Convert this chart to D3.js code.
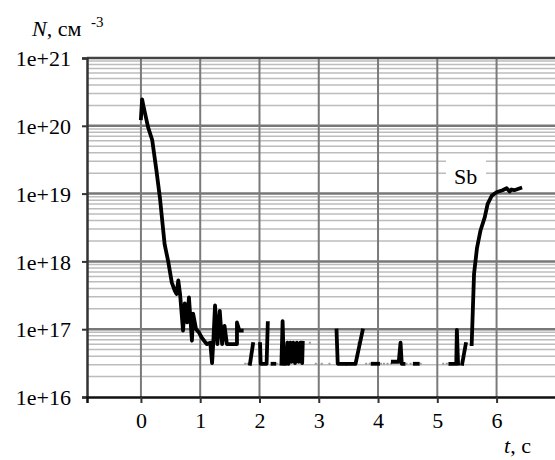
<!DOCTYPE html>
<html>
<head>
<meta charset="utf-8">
<script src="https://cdn.jsdelivr.net/npm/d3@7"></script>
</head>
<body style="margin:0; background:#fff">
<svg id="chart" width="555" height="460"></svg>
<script>
// data: time t (s) and exponent of N (cm^-3)
// each sub-array is one drawn piece of the curve; gaps between them
const segments = [
  [[0.00,20.11],[0.02,20.39],[0.04,20.30],[0.12,19.98],[0.19,19.79],[0.26,19.35],
   [0.32,18.94],[0.40,18.25],[0.46,18.00],[0.52,17.69],[0.57,17.57],[0.60,17.52],
   [0.63,17.72],[0.66,17.52],[0.71,16.98],[0.74,17.38],[0.78,17.10],[0.81,17.47],
   [0.86,16.83],[0.88,17.23],[0.93,17.00],[0.98,16.95],[1.03,16.87],[1.11,16.78],
   [1.17,16.80],[1.20,16.50],[1.22,16.80],[1.25,17.35],[1.29,16.78],[1.33,17.27],
   [1.37,16.78],[1.41,17.05],[1.45,16.78],[1.50,16.78],[1.55,16.78],[1.62,16.78],
   [1.62,17.10],[1.66,16.98],[1.70,16.98]],
  [[1.84,16.49],[1.89,16.78]],
  [[2.01,16.78],[2.02,16.49],[2.12,16.49],[2.14,17.09]],
  [[2.22,16.49],[2.25,16.49]],
  [[2.37,16.49],[2.39,17.12],[2.41,16.49],[2.45,16.49],[2.47,16.80],[2.49,16.49],
   [2.52,16.80],[2.54,16.52],[2.57,16.80],[2.60,16.50],[2.63,16.80],[2.66,16.52],
   [2.69,16.80],[2.72,16.50],[2.73,16.80]],
  [[3.30,16.98],[3.32,16.49],[3.44,16.49]],
  [[3.49,16.49],[3.62,16.49],[3.74,16.98]],
  [[3.91,16.49],[4.00,16.49]],
  [[4.25,16.52],[4.35,16.52],[4.38,16.80],[4.40,16.49],[4.43,16.49]],
  [[4.62,16.49],[4.67,16.49]],
  [[5.22,16.49],[5.32,16.49],[5.33,16.99],[5.35,16.49]],
  [[5.42,16.49],[5.48,16.78]],
  [[5.58,16.78],[5.60,17.30],[5.62,17.82],[5.67,18.20],[5.73,18.46],[5.80,18.65],
   [5.85,18.85],[5.92,18.97],[6.00,19.02],[6.10,19.05],[6.17,19.08],[6.22,19.03],
   [6.25,19.06],[6.30,19.05],[6.40,19.08]]
];
// small grey isolated points
const dots = [
  [1.76,16.49],[1.80,16.49],[2.30,16.49],[2.85,16.80],[2.95,16.49],[3.05,16.49],
  [3.18,16.49],[3.47,16.49],[3.67,16.80],[3.80,16.49],[3.86,16.49],[4.05,16.49],
  [4.10,16.49],[4.16,16.49],[4.22,16.49],[4.48,16.49],[4.55,16.49],[4.72,16.49],
  [5.10,16.49],[5.16,16.49]
];
const xTicks = [0, 1, 2, 3, 4, 5, 6];
const yTicks = [1e16, 1e17, 1e18, 1e19, 1e20, 1e21];
const seriesLabel = "Sb";

const serif = "Liberation Serif";
const svg = d3.select("#chart");
const pLeft = 87, pRight = 560, pTop = 58, pBottom = 397;

const x = d3.scaleLinear().domain([-0.91, 7.07]).range([pLeft, pRight]);
const y = d3.scaleLog().domain([1e16, 1e21]).range([pBottom, pTop]);

// minor log grid
const minor = [];
for (let e = 16; e < 21; e++) for (let m = 2; m <= 9; m++) minor.push(m * Math.pow(10, e));
svg.append("g").selectAll("line").data(minor).enter().append("line")
  .attr("x1", pLeft).attr("x2", pRight)
  .attr("y1", d => y(d)).attr("y2", d => y(d))
  .attr("stroke", "#bcbcbc").attr("stroke-width", 1.5);

// major horizontal grid
svg.append("g").selectAll("line").data(yTicks.slice(1, -1)).enter().append("line")
  .attr("x1", pLeft).attr("x2", pRight)
  .attr("y1", d => y(d)).attr("y2", d => y(d))
  .attr("stroke", "#777").attr("stroke-width", 2.5);

// vertical grid
svg.append("g").selectAll("line").data(xTicks).enter().append("line")
  .attr("x1", d => x(d)).attr("x2", d => x(d))
  .attr("y1", pTop).attr("y2", pBottom)
  .attr("stroke", "#7a7a7a").attr("stroke-width", 2);

// top border
svg.append("line").attr("x1", pLeft).attr("x2", pRight).attr("y1", pTop).attr("y2", pTop)
  .attr("stroke", "#444").attr("stroke-width", 2.5);

// axes
const yAxis = d3.axisLeft(y).tickValues(yTicks).tickSize(5).tickFormat(d => "1e+" + Math.round(Math.log10(d)));
const gy = svg.append("g").attr("transform", `translate(${pLeft},0)`).call(yAxis);
gy.select(".domain").attr("stroke", "#333").attr("stroke-width", 2.5);
gy.selectAll(".tick line").attr("stroke", "#333").attr("stroke-width", 2);
gy.selectAll(".tick text").attr("x", -16).attr("dy", "0.35em").attr("fill", "#000")
  .attr("font-family", serif).attr("font-size", 22);

const xAxis = d3.axisBottom(x).tickValues(xTicks).tickSize(6).tickFormat(d3.format("d"));
const gx = svg.append("g").attr("transform", `translate(0,${pBottom})`).call(xAxis);
gx.select(".domain").attr("stroke", "#111").attr("stroke-width", 2.5);
gx.selectAll(".tick line").attr("stroke", "#333").attr("stroke-width", 2);
gx.selectAll(".tick text").attr("y", 15).attr("dy", "0.71em").attr("fill", "#000")
  .attr("font-family", serif).attr("font-size", 22);

// label background for Sb
svg.append("rect").attr("x", 446).attr("y", 160).attr("width", 40).attr("height", 30).attr("fill", "#fff");
svg.append("text").attr("x", 454).attr("y", 184)
  .attr("font-family", serif).attr("font-size", 22).text(seriesLabel);

// grey isolated points
svg.append("g").selectAll("rect").data(dots).enter().append("rect")
  .attr("x", d => x(d[0]) - 1).attr("y", d => y(Math.pow(10, d[1])) - 1)
  .attr("width", 2).attr("height", 2).attr("fill", "#999");

// curve
const line = d3.line().x(d => x(d[0])).y(d => y(Math.pow(10, d[1])));
svg.append("g").selectAll("path").data(segments).enter().append("path")
  .attr("d", line).attr("fill", "none").attr("stroke", "#000")
  .attr("stroke-width", 3.8).attr("stroke-linejoin", "round").attr("stroke-linecap", "square");

// axis titles
const ty = svg.append("text").attr("x", 32).attr("y", 36)
  .attr("font-family", serif).attr("font-size", 22);
ty.append("tspan").attr("font-style", "italic").text("N");
ty.append("tspan").text(", см");
svg.append("text").attr("x", 91).attr("y", 27)
  .attr("font-family", serif).attr("font-size", 15).text("-3");

const tx = svg.append("text").attr("x", 504).attr("y", 453)
  .attr("font-family", serif).attr("font-size", 22);
tx.append("tspan").attr("font-style", "italic").text("t");
tx.append("tspan").text(", c");
</script>
</body>
</html>
